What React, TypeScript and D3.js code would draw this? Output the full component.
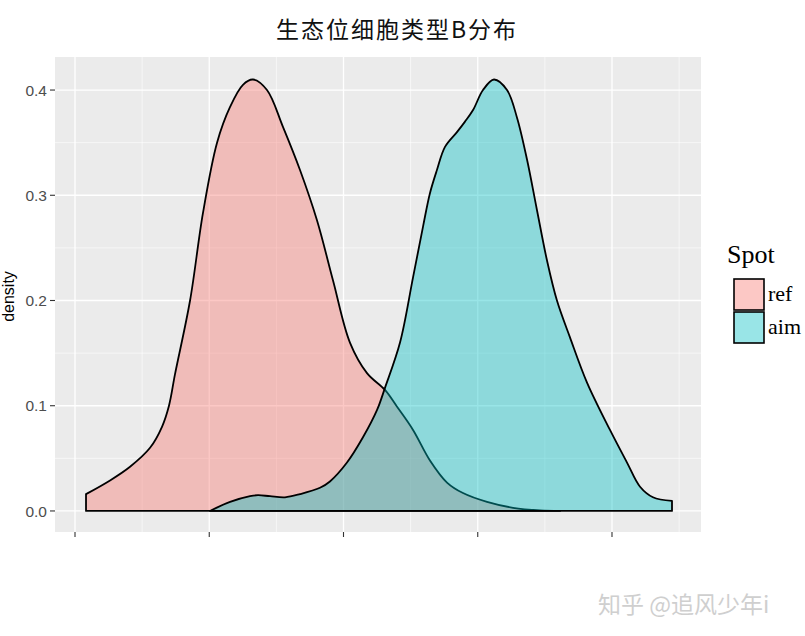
import React from "react";
import * as d3 from "d3";

const title = "生态位细胞类型B分布";
const legendTitle = "Spot";
const groups = ["ref", "aim"];
const groupColors = ["#F8766D", "#00BFC4"];
const yTicks = [0.0, 0.1, 0.2, 0.3, 0.4];
const xTicks = [0, 1, 2, 3, 4];
const watermark = "知乎 @追风少年i";

const refX = [0.082, 0.261, 0.41, 0.559, 0.648, 0.7, 0.745, 0.857, 0.953, 1.058, 1.155, 1.251, 1.326, 1.43, 1.549, 1.676, 1.803, 1.922, 2.048, 2.175, 2.309, 2.399, 2.518, 2.644, 2.771, 2.89, 3.069, 3.263, 3.464, 3.613];
const refY = [0.016, 0.029, 0.042, 0.06, 0.08, 0.1, 0.13, 0.2, 0.283, 0.35, 0.384, 0.405, 0.41, 0.4, 0.365, 0.324, 0.276, 0.219, 0.16, 0.131, 0.115, 0.099, 0.077, 0.048, 0.027, 0.017, 0.0086, 0.003, 0.0005, 0.0];

const aimX = [1.006, 1.155, 1.304, 1.363, 1.453, 1.564, 1.676, 1.825, 1.899, 2.026, 2.145, 2.25, 2.309, 2.421, 2.518, 2.592, 2.644, 2.696, 2.756, 2.845, 2.905, 2.965, 3.039, 3.121, 3.218, 3.292, 3.367, 3.441, 3.516, 3.59, 3.687, 3.814, 3.985, 4.112, 4.209, 4.305, 4.447];
const aimY = [0.0, 0.0086, 0.014, 0.015, 0.014, 0.013, 0.016, 0.022, 0.028, 0.046, 0.07, 0.096, 0.117, 0.16, 0.222, 0.27, 0.302, 0.324, 0.346, 0.36, 0.37, 0.381, 0.4, 0.41, 0.4, 0.374, 0.334, 0.286, 0.238, 0.2, 0.165, 0.122, 0.077, 0.046, 0.023, 0.013, 0.0095];

export default function App() {
  const W = 805, H = 636;
  const pL = 55, pR = 701, pT = 57, pB = 532;
  const x = d3.scaleLinear().domain([-0.149, 4.663]).range([pL, pR]);
  const y = d3.scaleLinear().domain([-0.02, 0.4314]).range([pB, pT]);

  const series = [
    refX.map((v, i) => [v, refY[i]] as [number, number]),
    aimX.map((v, i) => [v, aimY[i]] as [number, number]),
  ];
  const area = d3
    .area<[number, number]>()
    .x((d) => x(d[0]))
    .y0(() => y(0))
    .y1((d) => y(d[1]))
    .curve(d3.curveCatmullRom.alpha(0.5));

  const xMinor = [-0.5, 0.5, 1.5, 2.5, 3.5, 4.5].filter((v) => x(v) >= pL && x(v) <= pR);
  const yMinor = [0.05, 0.15, 0.25, 0.35].filter((v) => y(v) >= pT && y(v) <= pB);

  return (
    <svg width={W} height={H} style={{ position: "absolute", left: 0, top: 0, background: "#fff" }}>
      <rect x={0} y={0} width={W} height={H} fill="#fff" />
      <text x={397} y={38} textAnchor="middle" fontFamily="'Noto Sans CJK SC', sans-serif" fontSize={23} letterSpacing={2} fill="#111">
        {title}
      </text>
      <rect x={pL} y={pT} width={pR - pL} height={pB - pT} fill="#EBEBEB" />
      {xMinor.map((v) => (
        <line key={"xm" + v} x1={x(v)} x2={x(v)} y1={pT} y2={pB} stroke="#fff" strokeWidth={0.6} />
      ))}
      {yMinor.map((v) => (
        <line key={"ym" + v} x1={pL} x2={pR} y1={y(v)} y2={y(v)} stroke="#fff" strokeWidth={0.6} />
      ))}
      {xTicks.map((v) => (
        <line key={"xg" + v} x1={x(v)} x2={x(v)} y1={pT} y2={pB} stroke="#fff" strokeWidth={1.3} />
      ))}
      {yTicks.map((v) => (
        <line key={"yg" + v} x1={pL} x2={pR} y1={y(v)} y2={y(v)} stroke="#fff" strokeWidth={1.3} />
      ))}
      {series.map((s, i) => (
        <path
          key={groups[i]}
          d={area(s) || ""}
          fill={groupColors[i]}
          fillOpacity={0.4}
          stroke="#000"
          strokeWidth={1.8}
          strokeLinejoin="round"
        />
      ))}
      {yTicks.map((v) => (
        <g key={"yt" + v}>
          <line x1={pL - 5} x2={pL} y1={y(v)} y2={y(v)} stroke="#333" strokeWidth={1.1} />
          <text x={pL - 8} y={y(v)} dy="0.36em" textAnchor="end" fontFamily="'Liberation Sans', Arial, sans-serif" fontSize={15.5} fill="#4D4D4D">
            {d3.format(".1f")(v)}
          </text>
        </g>
      ))}
      {xTicks.map((v) => (
        <line key={"xt" + v} x1={x(v)} x2={x(v)} y1={pB} y2={pB + 5} stroke="#333" strokeWidth={1.1} />
      ))}
      <text transform={`translate(14,${(pT + pB) / 2 + 2}) rotate(-90)`} textAnchor="middle" fontFamily="'Liberation Sans', Arial, sans-serif" fontSize={16} fill="#000">
        density
      </text>
      <text x={727} y={263} fontFamily="'Liberation Serif', 'Times New Roman', serif" fontSize={26} fill="#000">
        {legendTitle}
      </text>
      {groups.map((g, i) => (
        <g key={"lg" + g}>
          <rect x={734} y={279 + i * 33} width={30} height={31} fill={groupColors[i]} fillOpacity={0.4} stroke="#000" strokeWidth={1.6} />
          <text x={768} y={301 + i * 33} fontFamily="'Liberation Serif', 'Times New Roman', serif" fontSize={22} fill="#000">
            {g}
          </text>
        </g>
      ))}
      <text x={598} y={613} fontFamily="'Noto Sans CJK SC', sans-serif" fontSize={23} fill="#fff" stroke="#fff" strokeWidth={1} transform="translate(1,1)">
        {watermark}
      </text>
      <text x={598} y={613} fontFamily="'Noto Sans CJK SC', sans-serif" fontSize={23} fill="#cfcfcf">
        {watermark}
      </text>
    </svg>
  );
}
